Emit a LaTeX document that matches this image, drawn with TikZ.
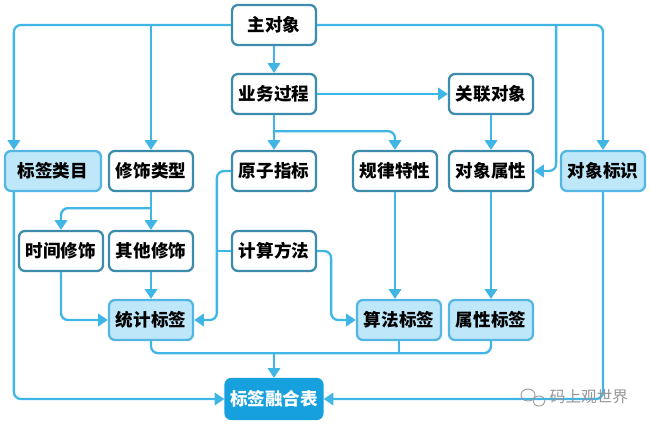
\documentclass[tikz,border=0pt]{standalone}
\usepackage{fontspec}
\newfontfamily\cjk{Noto Sans CJK SC}
\usetikzlibrary{calc,arrows.meta}

\definecolor{linkblue}{RGB}{64,182,230}
\definecolor{boxedge}{RGB}{62,140,172}
\definecolor{tagedge}{RGB}{84,182,226}
\definecolor{tagfill}{RGB}{190,231,249}
\definecolor{mainfill}{RGB}{22,160,222}
\definecolor{markgray}{RGB}{150,150,150}

\begin{document}
\begin{tikzpicture}[x=0.02cm, y=-0.02cm,
    box/.style={draw=boxedge, line width=1.3pt, fill=white, rounded corners=3.4pt,
        minimum width=1.68cm, minimum height=0.8cm, inner sep=0pt,
        font=\cjk\bfseries\fontsize{10pt}{12pt}\selectfont},
    tagbox/.style={box, draw=tagedge, fill=tagfill},
    mainbox/.style={box, draw=mainfill, fill=mainfill, text=white, minimum width=1.94cm},
    link/.style={draw=linkblue, line width=1.3pt, rounded corners=4pt},
    arr/.style={link, -{Triangle[width=7pt,length=5.5pt]}}]

    % Fix the page to the size of the reference
    \useasboundingbox (0,0) rectangle (650,424);

    % Top row: main object and business process
    \node[box] (zhu) at (274,25) {主对象};
    \node[box] (yewu) at (274,94) {业务过程};
    \node[box] (guanlian) at (491,94) {关联对象};

    % Middle row
    \node[tagbox, minimum width=1.92cm] (leimu) at (53,171) {标签类目};
    \node[box] (xiushi) at (151,171) {修饰类型};
    \node[box] (yuanzi) at (274,171) {原子指标};
    \node[box] (guilv) at (395,171) {规律特性};
    \node[box] (shuxing) at (491,171) {对象属性};
    \node[tagbox] (biaoshi) at (603,171) {对象标识};

    % Modifiers and method
    \node[box] (shijian) at (61,251) {时间修饰};
    \node[box] (qita) at (151,251) {其他修饰};
    \node[box] (jisuan) at (274,251) {计算方法};

    % Tags
    \node[tagbox] (tongji) at (151,320) {统计标签};
    \node[tagbox] (suanfa) at (399,320) {算法标签};
    \node[tagbox] (shuxingbq) at (491,320) {属性标签};

    % Fused table
    \node[mainbox] (ronghe) at (274,399) {标签融合表};

    % Helper points for the jogs
    \coordinate (ljog) at ($(leimu.north west)+(10,0)$);
    \coordinate (rjog) at ($(shuxing.east)+(22,0)$);
    \coordinate (yjog) at ($(yuanzi.west)+(-14,0)$);
    \coordinate (bus) at ($(shuxingbq.south)+(0,12)$);

    % Links from the main object
    \draw[arr] (zhu.west) -| (ljog);
    \draw[arr] (xiushi.north |- zhu.west) -- (xiushi.north);
    \draw[arr] (zhu.east) -| (biaoshi.north);
    \draw[arr] (rjog |- zhu.east) |- (shuxing.east);
    \draw[arr] (zhu) -- (yewu);

    % Links from the business process
    \draw[arr] (yewu) -- (guanlian);
    \draw[arr] (yewu) -- (yuanzi);
    \draw[arr] ($(yewu.south)+(0,16)$) -| (guilv.north);
    \draw[arr] (guanlian) -- (shuxing);

    % Modifiers to the statistic tag
    \draw[arr] (xiushi) -- (qita);
    \draw[arr] ($(xiushi.south)+(0,16)$) -| (shijian.north);
    \draw[arr] (shijian.south) |- (tongji.west);
    \draw[arr] (qita) -- (tongji);
    \draw[arr] (yuanzi.west) -- (yjog) |- (tongji.east);
    \draw[link] (jisuan.west) -- (jisuan.west -| yjog);

    % Method and rules to the algorithm tag
    \draw[arr] (jisuan.east) -- ++(14,0) |- (suanfa.west);
    \draw[arr] (guilv.south) -- (guilv.south |- suanfa.north);
    \draw[arr] (shuxing) -- (shuxingbq);

    % Tags into the fused table
    \draw[link] (tongji.south) |- (bus) -- (shuxingbq.south);
    \draw[link] (suanfa.south) -- (suanfa.south |- bus);
    \draw[arr] (ronghe.north |- bus) -- (ronghe.north);
    \draw[arr] ($(leimu.south west)+(10,0)$) |- (ronghe.west);
    \draw[arr] (biaoshi.south) |- (ronghe.east);

    % Watermark
    \draw[markgray, line width=0.5pt] (528,395) ellipse (7 and 6);
    \draw[markgray, line width=0.5pt] (539,401) ellipse (6 and 5);
    \node[text=markgray, font=\cjk\fontsize{8.9pt}{10pt}\selectfont] (mark) at (589,397) {码上观世界};

\end{tikzpicture}
\end{document}
